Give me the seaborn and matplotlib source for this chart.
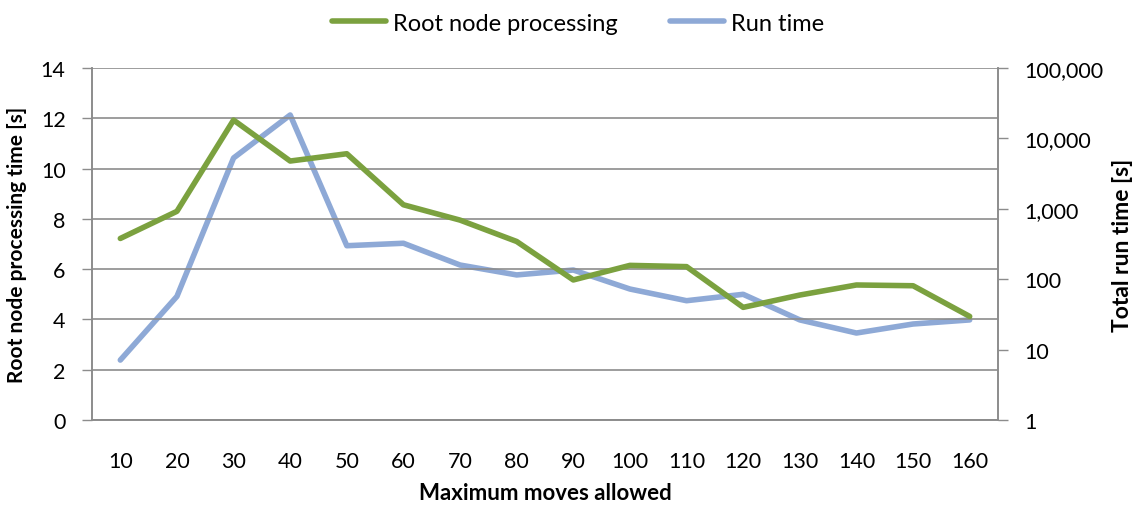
import numpy as np
import pandas as pd
import matplotlib
matplotlib.use("Agg")
import matplotlib.pyplot as plt
import matplotlib.ticker as mticker
import seaborn as sns

moves = [10, 20, 30, 40, 50, 60, 70, 80, 90, 100, 110, 120, 130, 140, 150, 160]
root_node = [7.22, 8.30, 11.93, 10.30, 10.59, 8.56, 7.95, 7.10, 5.57, 6.15, 6.10,
             4.48, 4.97, 5.37, 5.34, 4.12]
run_time = [7.1, 57, 5270, 21500, 299, 324, 159, 115, 135, 72.5, 49.5, 61, 26.4,
            17.2, 23.1, 26.4]
left_ticks = [0, 2, 4, 6, 8, 10, 12, 14]
right_ticks = [1, 10, 100, 1000, 10000, 100000]

sns.set_theme(style="white")
plt.rcParams['font.family'] = ['Lato', 'DejaVu Sans']
plt.rcParams['text.color'] = 'black'
plt.rcParams['axes.labelcolor'] = 'black'
plt.rcParams['xtick.color'] = 'black'
plt.rcParams['ytick.color'] = 'black'

GREEN = "#7BA13F"
BLUE = "#8EA9D6"
GRID = "#8C8C8C"

df = pd.DataFrame({"pos": np.arange(len(moves)), "moves": moves,
                   "root": root_node, "run": run_time})

fig = plt.figure(figsize=(11.45, 5.06), dpi=100)
ax = fig.add_axes([92 / 1145, 1 - 421 / 506, (998 - 92) / 1145, (421 - 69) / 506])
ax2 = ax.twinx()

sns.lineplot(data=df, x="pos", y="root", ax=ax, color=GREEN, linewidth=4,
             label="Root node processing", legend=False)
sns.lineplot(data=df, x="pos", y="run", ax=ax2, color=BLUE, linewidth=4,
             label="Run time", legend=False)

ax.set_zorder(ax2.get_zorder() + 1)
ax.patch.set_visible(False)

ax.set_xlim(-0.5, len(moves) - 0.5)
ax.set_ylim(0, 14)
ax.set_yticks(left_ticks)
ax.yaxis.grid(True, color=GRID, linewidth=1.2)
ax.set_axisbelow(True)
ax.set_xticks(df["pos"])
ax.set_xticklabels([str(m) for m in moves], fontsize=15.5)
ax.set_xticks(np.arange(-0.5, len(moves)), minor=True)
ax.tick_params(axis="x", which="major", length=0, pad=22)
ax.tick_params(axis="x", which="minor", length=7, width=1, color=GRID, direction="out")
ax.tick_params(axis="y", which="major", length=7, width=1, color=GRID, direction="out",
               labelsize=15.5, pad=12)
ax.tick_params(left=True, bottom=True)

ax2.set_yscale("log")
ax2.set_ylim(1, 100000)
ax2.set_yticks(right_ticks)
ax2.yaxis.set_minor_locator(mticker.NullLocator())
ax2.yaxis.set_major_formatter(mticker.FuncFormatter(lambda v, p: f"{int(round(v)):,}"))
ax2.tick_params(axis="y", which="major", length=7, width=1, color=GRID, direction="out",
                labelsize=15.5, pad=12, right=True)
ax2.grid(False)

for a in (ax, ax2):
    for s in a.spines.values():
        s.set_color(GRID)
        s.set_linewidth(1.2)
    a.spines["top"].set_visible(False)

ax.set_xlabel("Maximum moves allowed", fontsize=16, fontweight="bold", labelpad=8)
ax.set_ylabel("Root node processing time [s]", fontsize=15, fontweight="bold", labelpad=10)
ax2.set_ylabel("Total run time [s]", fontsize=16.5, fontweight="bold", labelpad=6)

h1, l1 = ax.get_legend_handles_labels()
h2, l2 = ax2.get_legend_handles_labels()
fig.legend(h1 + h2, l1 + l2, loc="upper center", bbox_to_anchor=(0.505, 1.015), ncol=2,
           frameon=False, fontsize=17, handlelength=2.3, handletextpad=0.3,
           columnspacing=2.2)

fig.savefig("out.png", dpi=100)
